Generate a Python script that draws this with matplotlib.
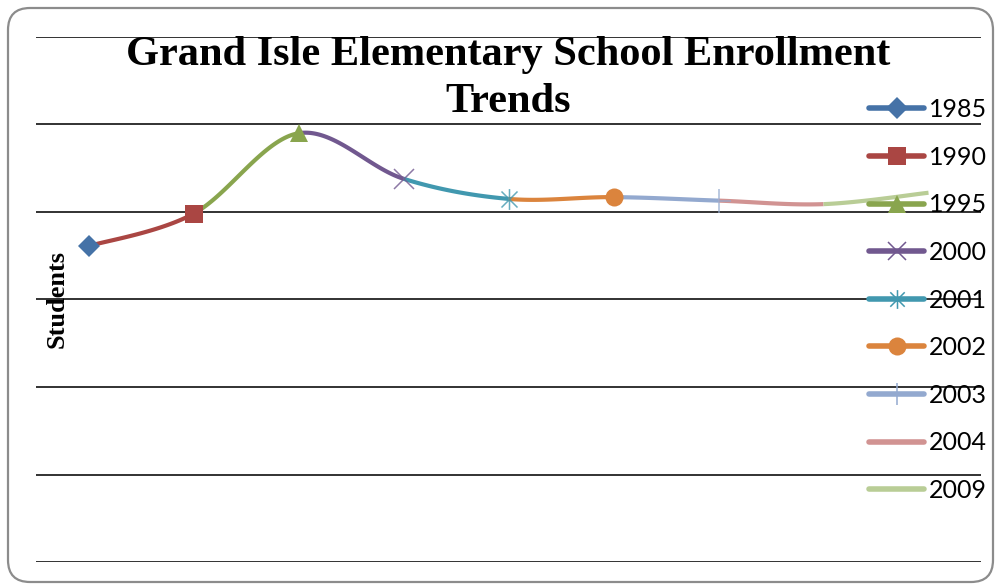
import numpy as np
import matplotlib
matplotlib.use('Agg')
import matplotlib.pyplot as plt
from matplotlib.lines import Line2D
from matplotlib.path import Path
from matplotlib.patches import FancyBboxPatch
from matplotlib.transforms import IdentityTransform

# Enrollment data (axis 0-600, no labels shown)
years = ['1985', '1990', '1995', '2000', '2001', '2002', '2003', '2004', '2009']
students = [361, 398, 490, 438, 415, 417, 413, 409, 422]
colors = ['#4572A7', '#AA4643', '#89A54E', '#71588F', '#4198AF',
          '#DB843D', '#93A9CF', '#D19392', '#B9CD96']

# Excel style star: an x plus a vertical bar
star = Path([(-1, -1), (1, 1), (-1, 1), (1, -1), (0, -1.3), (0, 1.3)],
            [Path.MOVETO, Path.LINETO, Path.MOVETO, Path.LINETO, Path.MOVETO, Path.LINETO])
markers = ['D', 's', '^', 'x', star, 'o', '+', None, None]
msizes = [11, 13, 13, 15, 15, 13, 17, 0, 0]
thin = [False, False, False, True, True, False, True, False, False]

fig = plt.figure(figsize=(9.97, 5.86), dpi=100)
ax = fig.add_axes([36 / 997, 1 - 562 / 586, 945 / 997, 525 / 586])

x = np.arange(len(years))
y = np.array(students, dtype=float)

# smooth line like Excel: bezier segments with catmull-rom control points
def bezier_segment(i):
    p0 = np.array([x[max(i - 2, 0)], y[max(i - 2, 0)]])
    p1 = np.array([x[i - 1], y[i - 1]])
    p2 = np.array([x[i], y[i]])
    p3 = np.array([x[min(i + 1, len(x) - 1)], y[min(i + 1, len(x) - 1)]])
    c1 = p1 + (p2 - p0) / 6
    c2 = p2 - (p3 - p1) / 6
    t = np.linspace(0, 1, 60)[:, None]
    pts = ((1 - t) ** 3) * p1 + 3 * ((1 - t) ** 2) * t * c1 + 3 * (1 - t) * t ** 2 * c2 + t ** 3 * p2
    return pts[:, 0], pts[:, 1]

for i in range(1, len(x)):
    sx, sy = bezier_segment(i)
    ax.plot(sx, sy, color=colors[i], lw=3, solid_capstyle='butt', zorder=3)

handles = []
for i in range(len(x)):
    mk = markers[i]
    if mk is not None:
        if thin[i]:
            ax.plot(x[i], y[i], marker=mk, ms=msizes[i], color=colors[i], mew=1.1,
                    linestyle='none', zorder=4, alpha=0.8)
        else:
            ax.plot(x[i], y[i], marker=mk, ms=msizes[i], color=colors[i], mew=0,
                    linestyle='none', zorder=4)
    h = Line2D([0], [0], color=colors[i], lw=4, solid_capstyle='round',
               marker=mk if mk is not None else '', ms=msizes[i] if not thin[i] else msizes[i] * 0.9,
               mew=1.1 if thin[i] else 0)
    handles.append(h)

ax.set_xlim(-0.5, 8.5)
ax.set_ylim(0, 600)
ax.set_yticks(np.arange(0, 601, 100))
ax.yaxis.grid(True, color='#222222', lw=1.3)
ax.set_axisbelow(True)
ax.tick_params(left=False, bottom=False, labelleft=False, labelbottom=False)
for s in ax.spines.values():
    s.set_visible(False)
ax.patch.set_alpha(0)

fig.text(508 / 997, 1 - 55 / 586, 'Grand Isle Elementary School Enrollment',
         ha='center', va='center', fontsize=30.5, fontweight='bold', family='Liberation Serif')
fig.text(508 / 997, 1 - 102 / 586, 'Trends',
         ha='center', va='center', fontsize=30.5, fontweight='bold', family='Liberation Serif')
fig.text(57 / 997, 1 - 299 / 586, 'Students', rotation=90, ha='center', va='center',
         fontsize=19, fontweight='bold', family='Liberation Serif')

leg = fig.legend(handles, years, loc='upper left', bbox_to_anchor=(869 / 997, 1 - 98 / 586),
                 frameon=False, borderpad=0, borderaxespad=0, handlelength=2.2,
                 handletextpad=0.2, labelspacing=0.985, prop={'family': 'Lato', 'size': 18})

border = FancyBboxPatch((8, 4), 985, 574, boxstyle='round,pad=0,rounding_size=22',
                        transform=IdentityTransform(), fill=False, ec='#8c8c8c', lw=1.6)
fig.patches.append(border)

fig.savefig('out.png', dpi=100)
